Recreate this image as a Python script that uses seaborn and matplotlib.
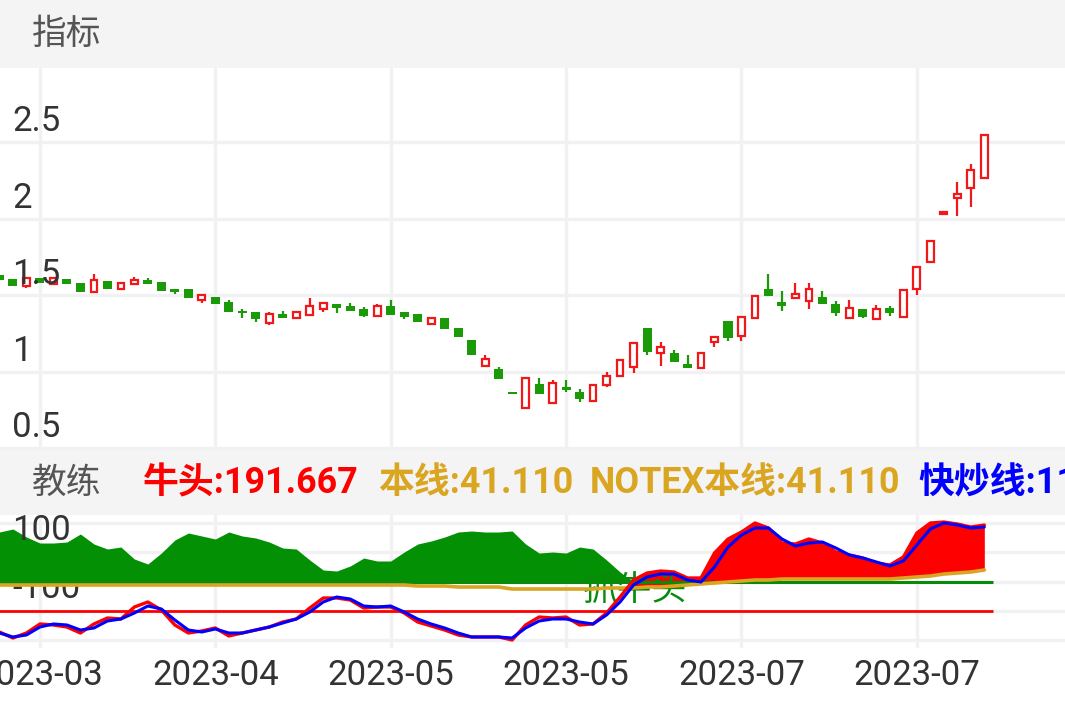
import numpy as np
import pandas as pd
import matplotlib
matplotlib.use("Agg")
import matplotlib.pyplot as plt
import seaborn as sns
from matplotlib.patches import Rectangle

# ---- candle data (one entry per trading day) ----
opens = [1.631, 1.605, 1.559, 1.611, 1.572, 1.605, 1.578, 1.520, 1.592, 1.539,
         1.572, 1.598, 1.585, 1.539, 1.539, 1.467, 1.487, 1.454, 1.395, 1.389,
         1.317, 1.376, 1.350, 1.369, 1.408, 1.441, 1.428, 1.408, 1.363, 1.428,
         1.389, 1.376, 1.310, 1.350, 1.284, 1.206, 1.036, 1.016, 0.866, 0.761,
         0.918, 0.794, 0.899, 0.866, 0.807, 0.912, 0.971, 1.029, 1.284, 1.121,
         1.121, 1.049, 1.023, 1.193, 1.330, 1.232, 1.350, 1.539, 1.454, 1.480,
         1.461, 1.487, 1.441, 1.350, 1.408, 1.343, 1.415, 1.356, 1.539, 1.716,
         2.029, 2.134, 2.199, 2.265]
highs = [1.631, 1.605, 1.611, 1.611, 1.618, 1.605, 1.578, 1.637, 1.592, 1.585,
         1.618, 1.611, 1.585, 1.539, 1.539, 1.500, 1.487, 1.467, 1.408, 1.389,
         1.389, 1.395, 1.389, 1.480, 1.448, 1.441, 1.448, 1.422, 1.441, 1.467,
         1.389, 1.376, 1.356, 1.350, 1.284, 1.206, 1.108, 1.029, 0.866, 0.958,
         0.958, 0.944, 0.944, 0.886, 0.912, 0.997, 1.075, 1.186, 1.284, 1.193,
         1.141, 1.108, 1.121, 1.225, 1.330, 1.356, 1.493, 1.637, 1.526, 1.578,
         1.578, 1.526, 1.461, 1.467, 1.408, 1.435, 1.428, 1.533, 1.683, 1.853,
         2.042, 2.239, 2.356, 2.546]
lows = [1.598, 1.559, 1.546, 1.578, 1.572, 1.572, 1.520, 1.520, 1.539, 1.539,
        1.572, 1.572, 1.526, 1.507, 1.480, 1.448, 1.441, 1.389, 1.350, 1.324,
        1.304, 1.350, 1.350, 1.369, 1.389, 1.382, 1.395, 1.356, 1.363, 1.369,
        1.343, 1.324, 1.310, 1.278, 1.225, 1.108, 1.036, 0.951, 0.853, 0.761,
        0.853, 0.788, 0.866, 0.801, 0.807, 0.899, 0.971, 0.990, 1.108, 1.036,
        1.062, 1.023, 1.023, 1.160, 1.199, 1.199, 1.350, 1.493, 1.395, 1.480,
        1.408, 1.441, 1.363, 1.350, 1.350, 1.343, 1.363, 1.356, 1.500, 1.716,
        2.029, 2.016, 2.075, 2.265]
closes = [1.598, 1.559, 1.611, 1.578, 1.611, 1.572, 1.520, 1.598, 1.539, 1.578,
          1.598, 1.572, 1.526, 1.520, 1.480, 1.500, 1.441, 1.389, 1.382, 1.343,
          1.376, 1.350, 1.389, 1.428, 1.448, 1.415, 1.395, 1.363, 1.428, 1.369,
          1.356, 1.324, 1.350, 1.278, 1.225, 1.108, 1.082, 0.951, 0.853, 0.958,
          0.853, 0.925, 0.879, 0.820, 0.912, 0.971, 1.075, 1.186, 1.127, 1.160,
          1.062, 1.023, 1.121, 1.225, 1.219, 1.356, 1.493, 1.493, 1.428, 1.507,
          1.539, 1.441, 1.382, 1.415, 1.356, 1.408, 1.382, 1.533, 1.683, 1.853,
          2.042, 2.160, 2.317, 2.546]

# ---- 教练 indicator ----
niutou = [-272.7, -293.2, -276.1, -245.3, -248.7, -255.6, -276.1, -245.3, -224.8, -228.2,
          -187.2, -170.1, -197.5, -248.7, -276.1, -269.2, -259.0, -286.3, -276.1, -265.8,
          -255.6, -238.5, -228.2, -190.6, -156.4, -156.4, -163.3, -190.6, -187.2, -187.2,
          -207.7, -238.5, -252.1, -265.8, -282.9, -289.7, -289.7, -289.7, -300.0, -248.7,
          -221.4, -224.8, -221.4, -248.7, -245.3, -207.7, -153.0, -94.9, -71.0, -64.1,
          -67.5, -88.0, -88.0, -2.6, 45.3, 69.2, 100.0, 82.9, 31.6, 28.2,
          45.3, 31.6, 0.8, -9.4, -19.7, -36.8, -43.6, -16.2, 65.8, 100.0,
          103.4, 96.6, 86.3, 93.2]
kuaichao = [-276.1, -289.7, -282.9, -255.6, -245.3, -248.7, -265.8, -259.0, -235.1, -228.2,
            -207.7, -183.8, -194.0, -231.6, -265.8, -272.7, -262.4, -276.1, -276.1, -265.8,
            -255.6, -241.9, -228.2, -204.3, -170.1, -153.0, -159.8, -183.8, -187.2, -183.8,
            -204.3, -228.2, -245.3, -259.0, -276.1, -289.7, -289.7, -289.7, -293.2, -259.0,
            -235.1, -228.2, -228.2, -238.5, -245.3, -214.5, -170.1, -112.0, -84.6, -74.4,
            -74.4, -94.9, -101.7, -50.4, 17.9, 59.0, 82.9, 82.9, 45.3, 21.4,
            31.6, 35.0, 14.5, -9.4, -19.7, -33.3, -47.0, -29.9, 24.8, 79.5,
            100.0, 93.2, 82.9, 86.3]
benxian = [-112.0, -112.0, -112.0, -112.0, -112.0, -112.0, -112.0, -112.0, -112.0, -112.0,
           -112.0, -112.0, -112.0, -112.0, -112.0, -112.0, -112.0, -112.0, -112.0, -112.0,
           -112.0, -112.0, -112.0, -112.0, -112.0, -112.0, -112.0, -112.0, -112.0, -112.0,
           -112.0, -115.4, -115.4, -115.4, -118.8, -118.8, -118.8, -118.8, -125.7, -125.7,
           -125.7, -125.7, -125.7, -125.7, -125.7, -122.2, -122.2, -122.2, -118.8, -118.8,
           -115.4, -112.0, -108.5, -105.1, -101.7, -98.3, -94.9, -94.9, -91.5, -91.5,
           -91.5, -91.5, -91.5, -91.5, -91.5, -91.5, -91.5, -88.0, -84.6, -81.2,
           -74.4, -71.0, -67.5, -60.7]
coach_green = [69.2, 79.5, 52.1, 31.6, 31.6, 35.0, 62.4, 28.2, 11.1, 17.9,
               -23.1, -40.2, -2.6, 41.9, 65.8, 55.6, 45.3, 69.2, 55.6, 48.7,
               35.0, 14.5, 11.1, -26.5, -60.7, -64.1, -47.0, -19.7, -29.9, -29.9,
               0.8, 28.2, 38.5, 52.1, 69.2, 72.6, 69.2, 69.2, 72.6, 28.2,
               -2.6, 0.8, -2.6, 17.9, 11.1, -26.5, -67.5, -101.7]
level_green = -100
level_red = -200
signal_day = 43.2
signal_value = -129

grid_days = [3, 16, 29, 42, 55, 68]
date_labels = ["2023-03", "2023-04", "2023-05", "2023-05", "2023-07", "2023-07"]
price_ticks = [0.5, 1, 1.5, 2, 2.5]
price_labels = ["0.5", "1", "1.5", "2", "2.5"]
coach_ticks = [100, 0, -100, -200, -300]
coach_shown = {100: "100", -100: "-100"}

RED = "#F01818"
GREEN = "#1A9A06"
GRID = "#F1F1F3"
TXT = "#333333"

sns.set_theme(style="white")
plt.rcParams["font.family"] = ["Roboto", "Noto Sans CJK SC", "DejaVu Sans"]

W, H = 1065, 708
fig = plt.figure(figsize=(W / 100, H / 100), dpi=100)
fig.patch.set_facecolor("white")

# header bars
fig.add_artist(Rectangle((0, 1 - 68 / H), 1, 68 / H, transform=fig.transFigure,
                         color="#F4F4F4", zorder=0))
fig.add_artist(Rectangle((0, 1 - 515 / H), 1, 65 / H, transform=fig.transFigure,
                         color="#F4F4F4", zorder=0))
fig.text(32 / W, 1 - 34 / H, "指标", fontsize=25, color="#555555", va="center")
fig.text(32 / W, 1 - 483 / H, "教练", fontsize=25, color="#555555", va="center")
for txt, col, px in [("牛头:191.667", "#FF0000", 143), ("本线:41.110", "#DAA520", 378),
                     ("NOTEX本线:41.110", "#DAA520", 590), ("快炒线:111.111", "#0000FF", 918)]:
    fig.text(px / W, 1 - 483 / H, txt, fontsize=25.8, color=col, fontweight="bold", va="center")

ax1 = fig.add_axes([0, 1 - 450 / H, 1, (450 - 68) / H])
ax2 = fig.add_axes([0, 1 - 648 / H, 1, (648 - 515) / H])

df = pd.DataFrame({"open": opens, "high": highs, "low": lows, "close": closes})
df["day"] = np.arange(len(df))
up = df["close"] >= df["open"]
body_lo = df[["open", "close"]].min(axis=1)
body_h = (df["close"] - df["open"]).abs().clip(lower=0.006)

xlim = (0.04, 78.98)
for ax in (ax1, ax2):
    ax.set_xlim(*xlim)
    ax.set_facecolor("white")
    for s in ax.spines.values():
        s.set_visible(False)
    ax.set_xticks(grid_days)
    ax.grid(True, color=GRID, lw=2.4)
    ax.set_axisbelow(True)
    ax.tick_params(length=0, labelleft=False)

# ---- candles ----
ax1.set_ylim(0.487, 2.984)
ax1.set_yticks(price_ticks)
ax1.tick_params(labelbottom=False)
ax1.vlines(df["day"][up], df["low"][up], df["high"][up], color=RED, lw=1.6, zorder=2)
ax1.vlines(df["day"][~up], df["low"][~up], df["high"][~up], color=GREEN, lw=1.6, zorder=2)
ax1.bar(df["day"][up], body_h[up], bottom=body_lo[up], width=0.5, facecolor="white",
        edgecolor=RED, linewidth=1.6, zorder=3)
ax1.bar(df["day"][~up], body_h[~up], bottom=body_lo[~up], width=0.67, color=GREEN,
        linewidth=0, zorder=3)
for v, lab in zip(price_ticks, price_labels):
    ax1.annotate(lab, xy=(12 / W, v), xycoords=("axes fraction", "data"), xytext=(0, 11),
                 textcoords="offset pixels", va="baseline", ha="left", fontsize=25,
                 color=TXT, zorder=4)

# ---- coach indicator ----
ind = pd.DataFrame({"day": df["day"], "niutou": niutou, "kuaichao": kuaichao, "benxian": benxian})
ax2.set_ylim(-327.4, 127.4)
ax2.set_yticks(coach_ticks)
ng = len(coach_green)
ax2.fill_between(ind["day"][:ng], coach_green, level_green,
                 where=np.array(coach_green) >= level_green, interpolate=True,
                 color="#049004", lw=0, zorder=1.2)
ax2.fill_between(ind["day"], ind["niutou"], ind["benxian"],
                 where=ind["niutou"] > ind["benxian"], interpolate=True,
                 color="#FF0000", lw=0, zorder=1.3)
ax2.text(signal_day, signal_value, "抓牛头", color="#0A8A0A", fontsize=25,
         va="center", ha="left", zorder=1.5)
x0, x1 = ind["day"].iloc[0] - 0.5, ind["day"].iloc[-1] + 0.65
ax2.hlines(level_green, x0, x1, color="#0A8A0A", lw=2.2, zorder=1.6)
ax2.hlines(level_red, x0, x1, color="#FF0000", lw=2.0, zorder=1.6)
sns.lineplot(data=ind, x="day", y="benxian", ax=ax2, color="#DAA520", lw=2.6, zorder=1.7)
sns.lineplot(data=ind, x="day", y="niutou", ax=ax2, color="#FF0000", lw=2.4, zorder=2)
sns.lineplot(data=ind, x="day", y="kuaichao", ax=ax2, color="#0000FF", lw=2.2, zorder=2.1)
ax2.set_xlabel("")
ax2.set_ylabel("")
for v, lab in coach_shown.items():
    ax2.annotate(lab, xy=(12 / W, v), xycoords=("axes fraction", "data"), xytext=(0, -7),
                 textcoords="offset pixels", va="center", ha="left", fontsize=25,
                 color=TXT, zorder=5 if v > 0 else 1.0)
ax2.set_xticklabels(date_labels)
ax2.tick_params(axis="x", labelsize=25, labelcolor=TXT, pad=8)
ax2.set_xlim(*xlim)

fig.savefig("out.png", dpi=100, facecolor="white")
